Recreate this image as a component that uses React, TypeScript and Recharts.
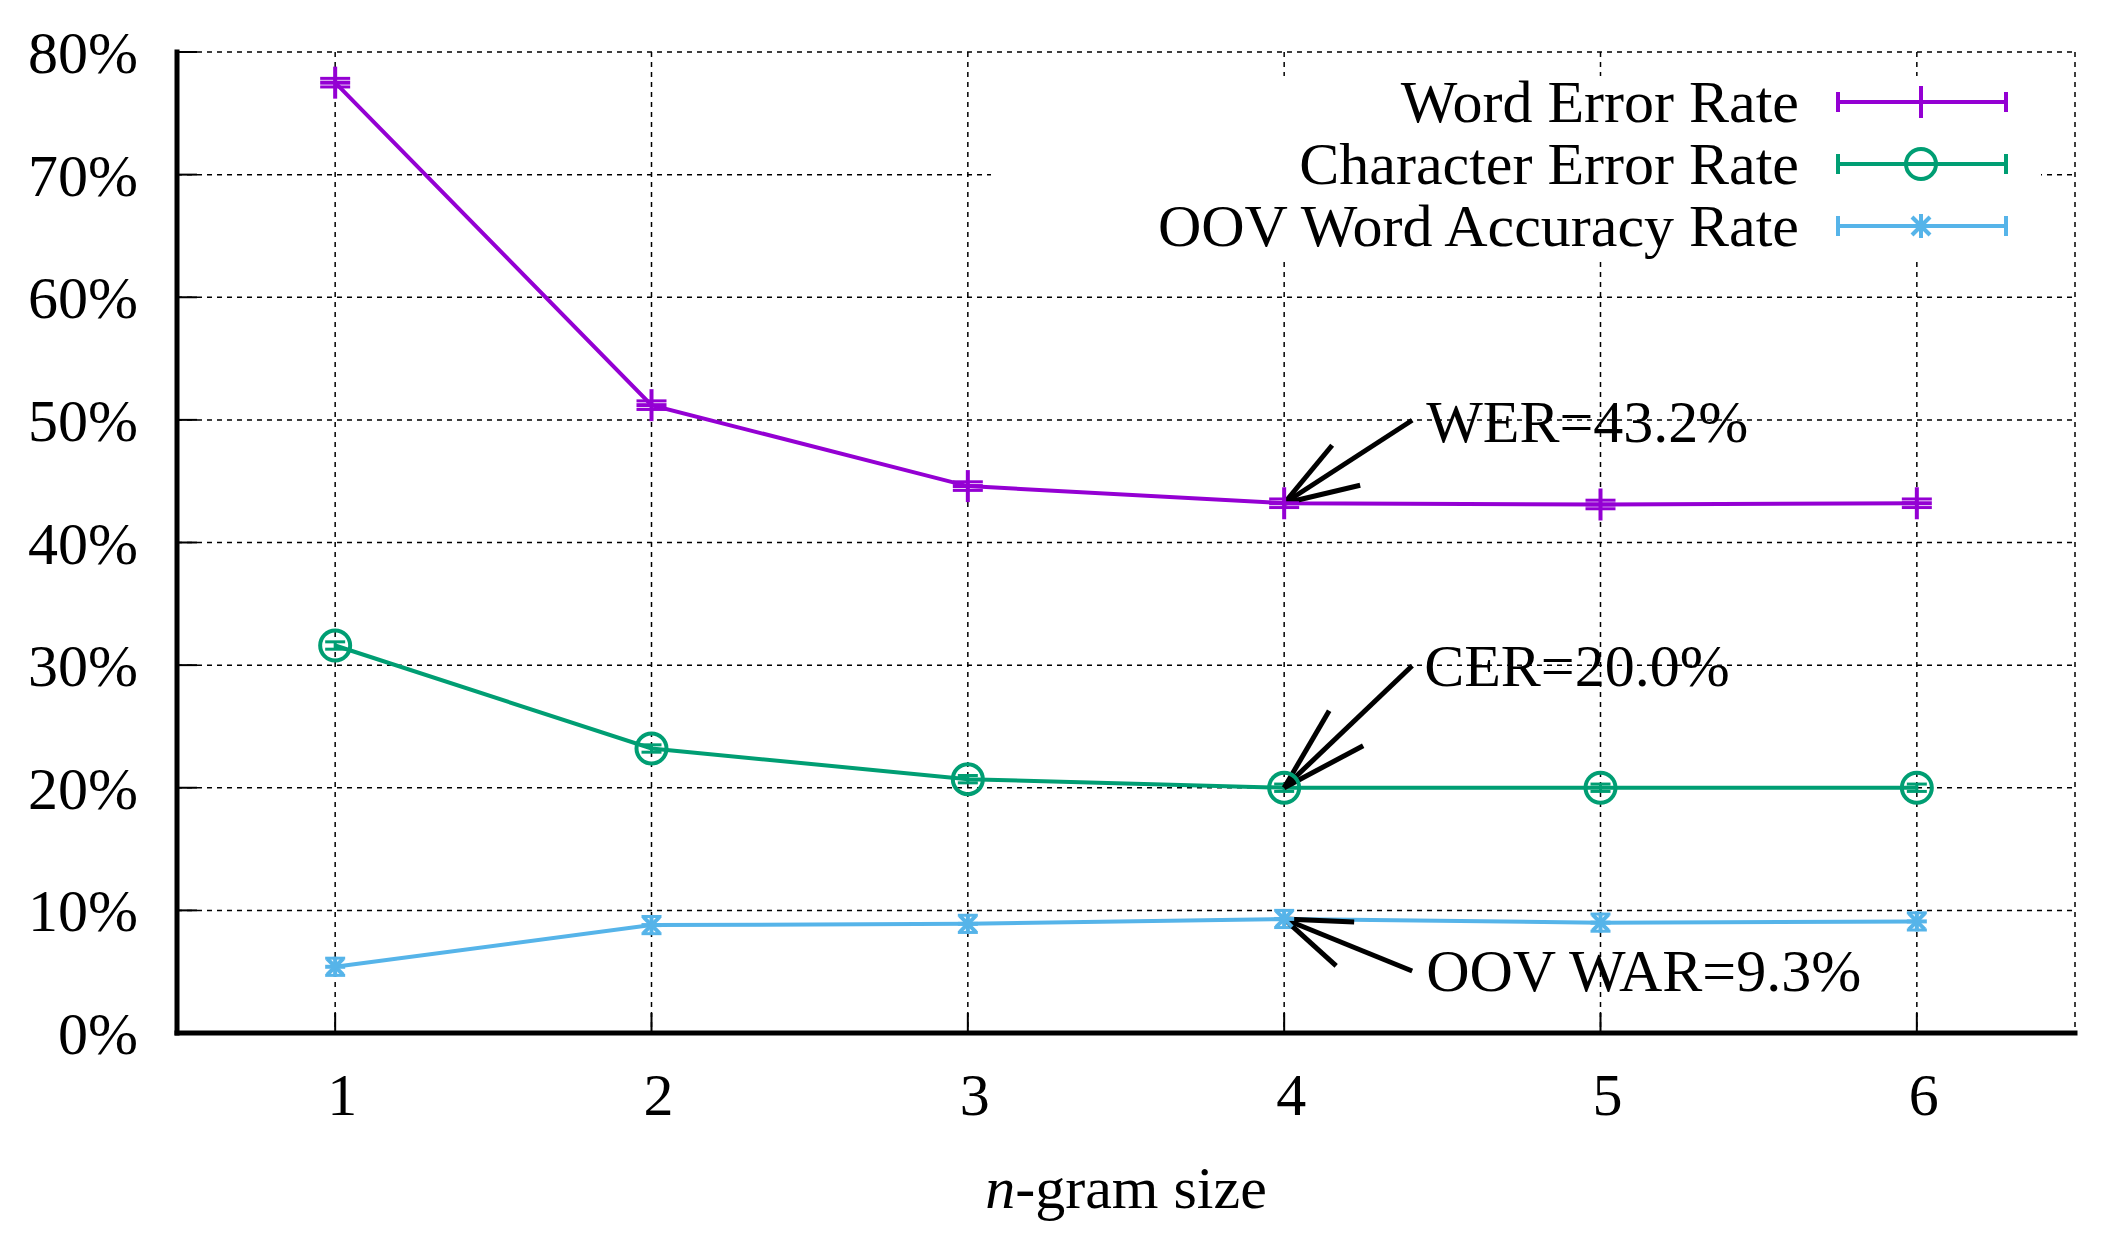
import React from 'react';
import { LineChart, Line, XAxis, YAxis, CartesianGrid, ErrorBar, Legend, ReferenceDot } from 'recharts';

// n-gram sizes and measured rates (in %)
const ngram = [1, 2, 3, 4, 5, 6];
const wer = [77.5, 51.2, 44.6, 43.2, 43.1, 43.2];
const werErr = [0.35, 0.35, 0.35, 0.35, 0.35, 0.35];
const cer = [31.6, 23.2, 20.7, 20.0, 20.0, 20.0];
const cerErr = [0.3, 0.3, 0.3, 0.3, 0.3, 0.3];
const oov = [5.4, 8.8, 8.9, 9.3, 9.0, 9.1];
const oovErr = [0.7, 0.7, 0.7, 0.7, 0.7, 0.7];

const yTicks = [0, 10, 20, 30, 40, 50, 60, 70, 80];
const xTicks = ngram;
const seriesKeys = ['wer', 'cer', 'oov'];
const seriesNames = ['Word Error Rate', 'Character Error Rate', 'OOV Word Accuracy Rate'];
const bestIdx = 3; // n = 4

const data = ngram.map((n, i) => ({
  n,
  wer: wer[i],
  werErr: werErr[i],
  cer: cer[i],
  cerErr: cerErr[i],
  oov: oov[i],
  oovErr: oovErr[i],
}));

const FONT = '"Liberation Serif", "Times New Roman", Times, serif';
const FS = 60;
const LW = 4;
const COLORS = { wer: '#9400d3', cer: '#009e73', oov: '#56b4e9' };

const Marker = ({ kind, cx, cy, color, big = false }) => {
  if (kind === 'wer') {
    return (
      <g stroke={color} strokeWidth={LW}>
        <line x1={cx - 15} y1={cy} x2={cx + 15} y2={cy} />
        <line x1={cx} y1={cy - 16} x2={cx} y2={cy + 16} />
      </g>
    );
  }
  if (kind === 'cer') {
    return <circle cx={cx} cy={cy} r={15} fill="none" stroke={color} strokeWidth={LW} />;
  }
  const s = big ? 12 : 10;
  const d = big ? 9 : 8;
  return (
    <g stroke={color} strokeWidth={LW}>
      <line x1={cx - s} y1={cy} x2={cx + s} y2={cy} />
      <line x1={cx} y1={cy - s} x2={cx} y2={cy + s} />
      <line x1={cx - d} y1={cy - d} x2={cx + d} y2={cy + d} />
      <line x1={cx - d} y1={cy + d} x2={cx + d} y2={cy - d} />
    </g>
  );
};

const makeDot = (kind) => (props) => {
  const { cx, cy, index } = props;
  if (cx == null || cy == null) return <g key={`${kind}-${index}`} />;
  return <Marker key={`${kind}-${index}`} kind={kind} cx={cx} cy={cy} color={COLORS[kind]} />;
};

const LeftTick = ({ x, y, payload }) => (
  <g>
    <line x1={x} y1={y} x2={x + 20} y2={y} stroke="#000" strokeWidth={2} />
    <text x={x - 39} y={y + 21} textAnchor="end" fontSize={FS} fontFamily={FONT} fill="#000">
      {payload.value}%
    </text>
  </g>
);

const RightTick = ({ x, y }) => (
  <line x1={x} y1={y} x2={x - 20} y2={y} stroke="#000" strokeWidth={2} />
);

const BottomTick = ({ x, y, payload }) => (
  <g>
    <line x1={x} y1={y} x2={x} y2={y - 20} stroke="#000" strokeWidth={2} />
    <text x={x + 7} y={y + 82} textAnchor="middle" fontSize={FS} fontFamily={FONT} fill="#000">
      {payload.value}
    </text>
  </g>
);

const TopTick = ({ x, y }) => (
  <line x1={x} y1={y} x2={x} y2={y + 20} stroke="#000" strokeWidth={2} />
);

const XLabel = ({ viewBox }) => (
  <text
    x={viewBox.x + viewBox.width / 2}
    y={viewBox.y + 175}
    textAnchor="middle"
    fontSize={FS}
    fontFamily={FONT}
    fill="#000"
  >
    <tspan fontStyle="italic">n</tspan>
    <tspan>-gram size</tspan>
  </text>
);

const renderLegend = ({ payload }) => {
  const items = [...(payload || [])].sort(
    (a, b) => seriesKeys.indexOf(String(a.dataKey)) - seriesKeys.indexOf(String(b.dataKey))
  );
  return (
    <svg width={1050} height={185} style={{ display: 'block', background: '#fff', overflow: 'visible' }}>
      {items.map((entry, i) => {
        const cy = 26 + i * 62;
        const kind = String(entry.dataKey);
        const color = COLORS[kind] || entry.color;
        return (
          <g key={kind}>
            <text x={808} y={cy + 20} textAnchor="end" fontSize={FS} fontFamily={FONT} fill="#000">
              {entry.value}
            </text>
            <g stroke={color} strokeWidth={LW}>
              <line x1={847} y1={cy} x2={1015} y2={cy} />
              <line x1={847} y1={cy - 10} x2={847} y2={cy + 10} />
              <line x1={1015} y1={cy - 10} x2={1015} y2={cy + 10} />
            </g>
            <Marker kind={kind} cx={930} cy={cy} color={color} big />
          </g>
        );
      })}
    </svg>
  );
};

// arrow geometry relative to the pointed-at value
const annotations = [
  { label: `WER=${wer[bestIdx].toFixed(1)}%`, y: wer[bestIdx], tail: [128, -83], barbA: [48, -58], barbB: [76, -18], text: [142, -61] },
  { label: `CER=${cer[bestIdx].toFixed(1)}%`, y: cer[bestIdx], tail: [128, -122], barbA: [45, -77], barbB: [79, -42], text: [140, -102] },
  { label: `OOV WAR=${oov[bestIdx].toFixed(1)}%`, y: oov[bestIdx], tail: [128, 52], barbA: [52, 47], barbB: [70, 3], text: [142, 72] },
];

const arrowShape = (ann) => (props) => {
  const { cx, cy } = props;
  return (
    <g>
      <g stroke="#000" strokeWidth={5}>
        <line x1={cx} y1={cy} x2={cx + ann.tail[0]} y2={cy + ann.tail[1]} />
        <line x1={cx} y1={cy} x2={cx + ann.barbA[0]} y2={cy + ann.barbA[1]} />
        <line x1={cx} y1={cy} x2={cx + ann.barbB[0]} y2={cy + ann.barbB[1]} />
      </g>
      <text x={cx + ann.text[0]} y={cy + ann.text[1]} fontSize={FS} fontFamily={FONT} fill="#000">
        {ann.label}
      </text>
    </g>
  );
};

const axisLine = { stroke: '#000', strokeWidth: 5, strokeLinecap: 'square' };

export default function App() {
  return (
    <div style={{ position: 'absolute', left: 0, top: 0, width: 2104, height: 1235, background: '#fff' }}>
      <LineChart width={2104} height={1235} data={data} margin={{ top: 52, right: 29, left: 0, bottom: 0 }}>
        <CartesianGrid stroke="#000" strokeWidth={1.5} strokeDasharray="5 5" />
        <XAxis
          dataKey="n"
          type="number"
          domain={[0.5, 6.5]}
          ticks={xTicks}
          interval={0}
          height={202}
          tickSize={0}
          tickMargin={0}
          tickLine={false}
          tick={BottomTick}
          axisLine={axisLine}
          label={{ content: XLabel }}
        />
        <XAxis
          xAxisId="top"
          orientation="top"
          dataKey="n"
          type="number"
          domain={[0.5, 6.5]}
          ticks={xTicks}
          interval={0}
          height={0}
          tickSize={0}
          tickMargin={0}
          tickLine={false}
          tick={TopTick}
          axisLine={axisLine}
        />
        <YAxis
          type="number"
          domain={[0, 80]}
          ticks={yTicks}
          interval={0}
          width={177}
          tickSize={0}
          tickMargin={0}
          tickLine={false}
          tick={LeftTick}
          axisLine={axisLine}
        />
        <YAxis
          yAxisId="right"
          orientation="right"
          type="number"
          domain={[0, 80]}
          ticks={yTicks}
          interval={0}
          width={0}
          tickSize={0}
          tickMargin={0}
          tickLine={false}
          tick={RightTick}
          axisLine={axisLine}
        />
        <Line
          dataKey="wer"
          name={seriesNames[0]}
          stroke={COLORS.wer}
          strokeWidth={LW}
          dot={makeDot('wer')}
          activeDot={false}
          isAnimationActive={false}
        >
          <ErrorBar dataKey="werErr" direction="y" width={15} stroke={COLORS.wer} strokeWidth={3} isAnimationActive={false} />
        </Line>
        <Line
          dataKey="cer"
          name={seriesNames[1]}
          stroke={COLORS.cer}
          strokeWidth={LW}
          dot={makeDot('cer')}
          activeDot={false}
          isAnimationActive={false}
        >
          <ErrorBar dataKey="cerErr" direction="y" width={10} stroke={COLORS.cer} strokeWidth={3} isAnimationActive={false} />
        </Line>
        <Line
          dataKey="oov"
          name={seriesNames[2]}
          stroke={COLORS.oov}
          strokeWidth={LW}
          dot={makeDot('oov')}
          activeDot={false}
          isAnimationActive={false}
        >
          <ErrorBar dataKey="oovErr" direction="y" width={10} stroke={COLORS.oov} strokeWidth={3} isAnimationActive={false} />
        </Line>
        {annotations.map((ann) => (
          <ReferenceDot key={ann.label} x={ngram[bestIdx]} y={ann.y} r={0} shape={arrowShape(ann)} />
        ))}
        <Legend
          content={renderLegend}
          layout="vertical"
          align="center"
          verticalAlign="middle"
          wrapperStyle={{ position: 'absolute', left: 991, top: 76, width: 1050, height: 185, margin: 0, padding: 0 }}
        />
      </LineChart>
    </div>
  );
}
